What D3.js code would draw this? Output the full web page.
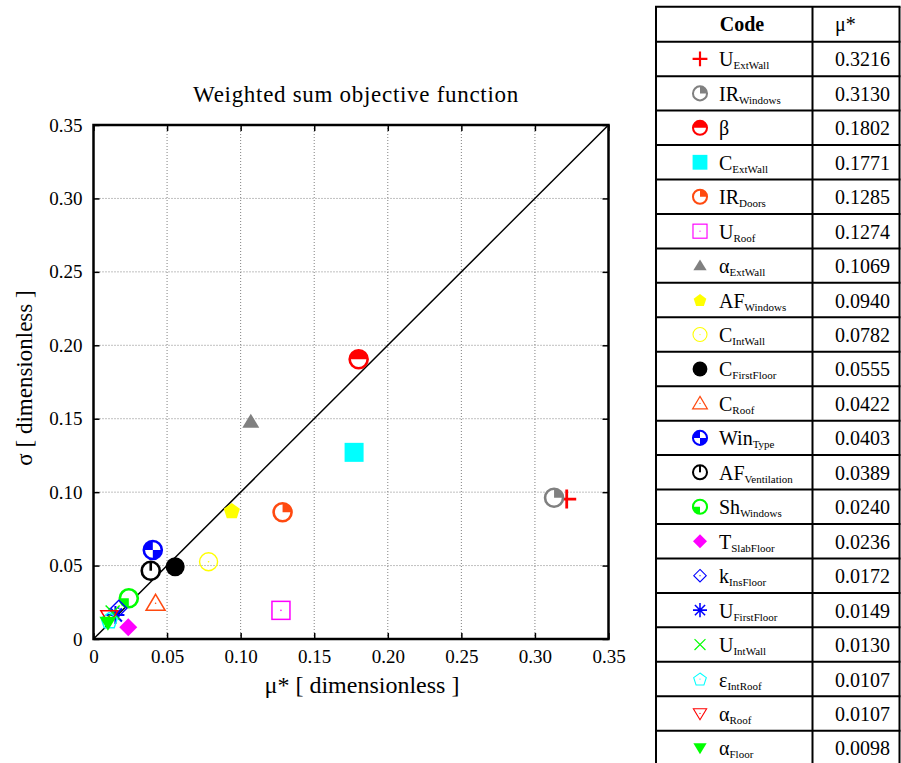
<!DOCTYPE html>
<html>
<head>
<meta charset="utf-8">
<script src="https://cdn.jsdelivr.net/npm/d3@7"></script>
<style>
  html, body { margin: 0; padding: 0; background: #fff; }
  svg { display: block; }
  svg text { font-family: "Liberation Serif", "DejaVu Serif", "Noto Serif", "Times New Roman", Times, serif; fill: #000; }
</style>
</head>
<body>
<svg id="chart" width="901" height="763"></svg>
<script>
// Morris screening results: mean of absolute elementary effects (mu*) vs standard deviation (sigma)
const codes   = ["U", "IR", "β", "C", "IR", "U", "α", "AF", "C", "C", "C",
                 "Win", "AF", "Sh", "T", "k", "U", "U", "ε", "α", "α"];
const subs    = ["ExtWall", "Windows", "", "ExtWall", "Doors", "Roof", "ExtWall", "Windows",
                 "IntWall", "FirstFloor", "Roof", "Type", "Ventilation", "Windows", "SlabFloor",
                 "InsFloor", "FirstFloor", "IntWall", "IntRoof", "Roof", "Floor"];
const muStar  = [0.3216, 0.3130, 0.1802, 0.1771, 0.1285, 0.1274, 0.1069, 0.0940, 0.0782, 0.0555,
                 0.0422, 0.0403, 0.0389, 0.0240, 0.0236, 0.0172, 0.0149, 0.0130, 0.0107, 0.0107, 0.0098];
const sigma   = [0.0953, 0.0962, 0.1905, 0.1271, 0.0863, 0.0195, 0.1480, 0.0874, 0.0526, 0.0492,
                 0.0243, 0.0606, 0.0465, 0.0277, 0.0080, 0.0210, 0.0163, 0.0180, 0.0129, 0.0152, 0.0110];
const markers = ["plus", "ringTR", "ringTop", "square", "ringTR", "squareOpen", "triUp", "pentagon",
                 "circleOpen", "circle", "triUpOpen", "ringChecker", "ringTick", "ringBL", "diamond",
                 "diamondOpen", "asterisk", "cross", "pentagonOpen", "triDownOpen", "triDown"];
const colors  = ["#ff0000", "#808080", "#ff0000", "#00ffff", "#ff4a10", "#ff00ff", "#808080", "#ffff00",
                 "#ffff00", "#000000", "#ff4a10", "#0000ff", "#000000", "#00ff00", "#ff00ff",
                 "#0000ff", "#0000ff", "#00ff00", "#00ffff", "#ff0000", "#00ff00"];
const ticks   = [0, 0.05, 0.10, 0.15, 0.20, 0.25, 0.30, 0.35];
const tickLabels = ["0", "0.05", "0.10", "0.15", "0.20", "0.25", "0.30", "0.35"];

const FONT = "'Liberation Serif', 'DejaVu Serif', 'Noto Serif', 'Times New Roman', Times, serif";
const svg = d3.select("#chart");

// ---------- plot area ----------
const P = { left: 93.5, right: 608.5, top: 125, bottom: 639 };
const x = d3.scaleLinear().domain([0, 0.35]).range([P.left, P.right]);
const y = d3.scaleLinear().domain([0, 0.35]).range([P.bottom, P.top]);

const plot = svg.append("g");

// dotted grid
plot.append("g").selectAll("line").data(ticks.slice(1, -1)).join("line")
  .attr("x1", d => x(d)).attr("x2", d => x(d)).attr("y1", P.top).attr("y2", P.bottom)
  .attr("stroke", "#808080").attr("stroke-width", 1).attr("stroke-dasharray", "1,2");
plot.append("g").selectAll("line").data(ticks.slice(1, -1)).join("line")
  .attr("y1", d => y(d)).attr("y2", d => y(d)).attr("x1", P.left).attr("x2", P.right)
  .attr("stroke", "#808080").attr("stroke-width", 1).attr("stroke-dasharray", "1,2");

// axes with inward ticks on all four sides
const fmt = (d, i) => tickLabels[i];
const axB = d3.axisBottom(x).tickValues(ticks).tickFormat(fmt).tickSizeInner(-6).tickSizeOuter(0).tickPadding(11);
const axL = d3.axisLeft(y).tickValues(ticks).tickFormat(fmt).tickSizeInner(-6).tickSizeOuter(0).tickPadding(11);
const axT = d3.axisTop(x).tickValues(ticks).tickFormat("").tickSizeInner(-6).tickSizeOuter(0);
const axR = d3.axisRight(y).tickValues(ticks).tickFormat("").tickSizeInner(-6).tickSizeOuter(0);

function styleAxis(g) {
  g.attr("font-family", null).attr("font-size", null);
  g.select(".domain").remove();
  g.selectAll(".tick line").attr("stroke", "#000").attr("stroke-width", 1.5);
  g.selectAll(".tick text").style("font-family", FONT).attr("font-size", 19).attr("fill", "#000");
}
plot.append("g").attr("transform", `translate(0,${P.bottom})`).call(axB).call(styleAxis);
plot.append("g").attr("transform", `translate(${P.left},0)`).call(axL).call(styleAxis);
plot.append("g").attr("transform", `translate(0,${P.top})`).call(axT).call(styleAxis);
plot.append("g").attr("transform", `translate(${P.right},0)`).call(axR).call(styleAxis);

// diagonal reference line sigma = mu*
plot.append("line")
  .attr("x1", x(0)).attr("y1", y(0)).attr("x2", x(0.35)).attr("y2", y(0.35))
  .attr("stroke", "#000").attr("stroke-width", 1.5);

// frame
plot.append("rect")
  .attr("x", P.left).attr("y", P.top).attr("width", P.right - P.left).attr("height", P.bottom - P.top)
  .attr("fill", "none").attr("stroke", "#000").attr("stroke-width", 2.5);

// ---------- marker drawing ----------
const arc = d3.arc();
function drawMarker(g, type, color, s) {
  const r = 9 * s;
  const ringW = 2.6 * s;
  const dot = (gg) => gg.append("circle").attr("r", 0.8 * s).attr("fill", color);
  const ring = () => g.append("circle").attr("r", r).attr("fill", "#fff").attr("stroke", color).attr("stroke-width", ringW);
  const sector = (a0, a1) => g.append("path")
    .attr("d", arc({ innerRadius: 0, outerRadius: r, startAngle: a0, endAngle: a1 })).attr("fill", color);
  const poly = (pts) => "M" + pts.map(p => p.join(",")).join("L") + "Z";
  const pentPts = (R) => d3.range(5).map(i => {
    const a = -Math.PI / 2 + i * 2 * Math.PI / 5;
    return [R * Math.cos(a), R * Math.sin(a) + R * 0.1];
  });
  switch (type) {
    case "plus":
      g.append("path").attr("d", `M${-9.5 * s},0H${9.5 * s}M0,${-9.5 * s}V${9.5 * s}`)
        .attr("stroke", color).attr("stroke-width", 2.8 * s).attr("fill", "none");
      break;
    case "cross": {
      const a = 7 * s;
      g.append("path").attr("d", `M${-a},${-a}L${a},${a}M${-a},${a}L${a},${-a}`)
        .attr("stroke", color).attr("stroke-width", 1.5 * s).attr("fill", "none");
      break;
    }
    case "asterisk": {
      const a = 9 * s, b = 6.5 * s;
      g.append("path").attr("d", `M${-a},0H${a}M0,${-a}V${a}M${-b},${-b}L${b},${b}M${-b},${b}L${b},${-b}`)
        .attr("stroke", color).attr("stroke-width", 2 * s).attr("fill", "none");
      break;
    }
    case "ringTR": ring(); sector(0, Math.PI / 2); break;
    case "ringBL": ring(); sector(Math.PI, 1.5 * Math.PI); break;
    case "ringTop": ring(); sector(-Math.PI / 2, Math.PI / 2); break;
    case "ringChecker": ring(); sector(1.5 * Math.PI, 2 * Math.PI); sector(Math.PI / 2, Math.PI); break;
    case "ringTick":
      ring();
      g.append("line").attr("x1", 0).attr("y1", 0).attr("x2", 0).attr("y2", -r)
        .attr("stroke", color).attr("stroke-width", ringW);
      break;
    case "circle":
      g.append("circle").attr("r", 9.5 * s).attr("fill", color);
      break;
    case "circleOpen":
      g.append("circle").attr("r", 9 * s).attr("fill", "none").attr("stroke", color).attr("stroke-width", 1.4 * s);
      dot(g);
      break;
    case "square":
      g.append("rect").attr("x", -9.5 * s).attr("y", -9.5 * s).attr("width", 19 * s).attr("height", 19 * s).attr("fill", color);
      break;
    case "squareOpen":
      g.append("rect").attr("x", -9 * s).attr("y", -9 * s).attr("width", 18 * s).attr("height", 18 * s)
        .attr("fill", "none").attr("stroke", color).attr("stroke-width", 1.5 * s);
      dot(g);
      break;
    case "diamond":
      g.append("path").attr("d", poly([[0, -9 * s], [9 * s, 0], [0, 9 * s], [-9 * s, 0]])).attr("fill", color);
      break;
    case "diamondOpen":
      g.append("path").attr("d", poly([[0, -8 * s], [8 * s, 0], [0, 8 * s], [-8 * s, 0]]))
        .attr("fill", "none").attr("stroke", color).attr("stroke-width", 1.4 * s);
      dot(g);
      break;
    case "triUp":
      g.append("path").attr("d", poly([[0, -8 * s], [8.5 * s, 6 * s], [-8.5 * s, 6 * s]])).attr("fill", color);
      break;
    case "triUpOpen":
      g.append("path").attr("d", poly([[0, -9 * s], [9.5 * s, 7 * s], [-9.5 * s, 7 * s]]))
        .attr("fill", "none").attr("stroke", color).attr("stroke-width", 1.5 * s);
      dot(g);
      break;
    case "triDown":
      g.append("path").attr("d", poly([[0, 8 * s], [8.5 * s, -6 * s], [-8.5 * s, -6 * s]])).attr("fill", color);
      break;
    case "triDownOpen":
      g.append("path").attr("d", poly([[0, 8 * s], [8.5 * s, -6 * s], [-8.5 * s, -6 * s]]))
        .attr("fill", "none").attr("stroke", color).attr("stroke-width", 1.4 * s);
      dot(g);
      break;
    case "pentagon":
      g.append("path").attr("d", poly(pentPts(8.5 * s))).attr("fill", color);
      break;
    case "pentagonOpen":
      g.append("path").attr("d", poly(pentPts(8.5 * s)))
        .attr("fill", "none").attr("stroke", color).attr("stroke-width", 1.4 * s);
      dot(g);
      break;
  }
}

// data points
const pts = plot.append("g");
muStar.forEach((m, i) => {
  const g = pts.append("g").attr("transform", `translate(${x(m)},${y(sigma[i])})`);
  drawMarker(g, markers[i], colors[i], 1);
});

// titles
svg.append("text").attr("x", 356).attr("y", 102)
  .attr("text-anchor", "middle").attr("font-size", 23).attr("letter-spacing", 0.7)
  .style("font-family", FONT)
  .text("Weighted sum objective function");
svg.append("text").attr("x", 362).attr("y", 693)
  .attr("text-anchor", "middle").attr("font-size", 24).style("font-family", FONT)
  .text("μ* [ dimensionless ]");
svg.append("text").attr("transform", `translate(32,${(P.top + P.bottom) / 2 - 4}) rotate(-90)`)
  .attr("text-anchor", "middle").attr("font-size", 23).style("font-family", FONT)
  .text("σ [ dimensionless ]");

// ---------- table ----------
const T = { left: 656, mid: 812.5, right: 899.5, top: 6.7, headH: 35, rowH: 34.45 };
const rowY = d3.scaleLinear().domain([0, 1]).range([T.top + T.headH, T.top + T.headH + T.rowH]);
const nRows = codes.length;
const tbl = svg.append("g");

// header
tbl.append("text").attr("x", 742).attr("y", T.top + T.headH / 2 + 7).style("font-family", FONT)
  .attr("text-anchor", "middle").attr("font-size", 20).attr("font-weight", "bold").text("Code");
tbl.append("text").attr("x", 835).attr("y", T.top + T.headH / 2 + 7).style("font-family", FONT)
  .attr("font-size", 20).text("μ*");

// rows
codes.forEach((c, i) => {
  const cy = (rowY(i) + rowY(i + 1)) / 2;
  const g = tbl.append("g").attr("transform", `translate(700,${cy})`);
  drawMarker(g, markers[i], colors[i], 0.78);
  const t = tbl.append("text").attr("x", 719).attr("y", cy + 7.5).attr("font-size", 20).style("font-family", FONT);
  t.append("tspan").text(c);
  if (subs[i]) t.append("tspan").attr("font-size", 11).attr("dy", 3).text(subs[i]);
  tbl.append("text").attr("x", 835).attr("y", cy + 7.5).attr("font-size", 20).style("font-family", FONT)
    .text(muStar[i].toFixed(4));
});

// grid lines of the table
const hLines = [T.top].concat(d3.range(nRows + 1).map(i => rowY(i)));
tbl.append("g").selectAll("line").data(hLines).join("line")
  .attr("x1", T.left - 1).attr("x2", T.right + 1).attr("y1", d => d).attr("y2", d => d)
  .attr("stroke", "#000").attr("stroke-width", 2);
tbl.append("g").selectAll("line").data([T.left, T.mid, T.right]).join("line")
  .attr("x1", d => d).attr("x2", d => d).attr("y1", T.top).attr("y2", rowY(nRows))
  .attr("stroke", "#000").attr("stroke-width", 2);
</script>
</body>
</html>
